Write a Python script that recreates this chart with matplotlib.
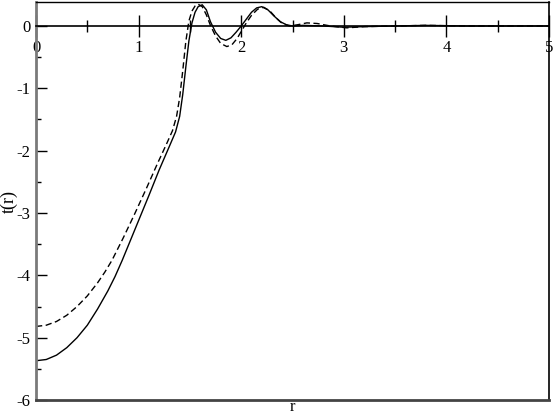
import matplotlib
matplotlib.use("Agg")
import matplotlib.pyplot as plt
from matplotlib.ticker import MultipleLocator

plt.rcParams['font.family'] = ['Liberation Serif', 'DejaVu Serif']
plt.rcParams['axes.unicode_minus'] = False

# solid curve
r_solid = [0.0, 0.1, 0.2, 0.3, 0.4, 0.5, 0.6, 0.7, 0.77, 0.84, 0.92, 1.0,
           1.1, 1.2, 1.3, 1.36, 1.40, 1.43, 1.46, 1.49, 1.52, 1.55, 1.58,
           1.62, 1.66, 1.70, 1.75, 1.80, 1.85, 1.90, 1.95, 2.00, 2.05, 2.10,
           2.15, 2.20, 2.26, 2.32, 2.38, 2.44, 2.50, 2.6, 2.8, 3.0, 3.2, 3.5,
           3.8, 4.2, 5.0]
t_solid = [-5.37, -5.35, -5.28, -5.16, -5.00, -4.80, -4.54, -4.25, -4.02,
           -3.76, -3.44, -3.12, -2.72, -2.31, -1.93, -1.70, -1.45, -1.10,
           -0.66, -0.24, 0.05, 0.22, 0.31, 0.34, 0.26, 0.07, -0.10, -0.20,
           -0.23, -0.19, -0.10, 0.00, 0.11, 0.22, 0.29, 0.31, 0.26, 0.16,
           0.07, 0.02, 0.0, 0.01, 0.0, -0.02, -0.01, 0.0, 0.01, 0.0, 0.0]

# dashed curve
r_dash = [0.0, 0.1, 0.2, 0.3, 0.4, 0.5, 0.6, 0.67, 0.74, 0.85, 0.96, 1.08,
          1.18, 1.27, 1.33, 1.37, 1.40, 1.43, 1.46, 1.49, 1.52, 1.55, 1.58,
          1.62, 1.66, 1.70, 1.75, 1.80, 1.86, 1.91, 1.96, 2.01, 2.05, 2.10,
          2.16, 2.22, 2.28, 2.34, 2.40, 2.47, 2.55, 2.64, 2.74, 2.87, 3.03,
          3.2, 3.5, 3.8, 4.2, 5.0]
t_dash = [-4.82, -4.80, -4.74, -4.64, -4.50, -4.33, -4.12, -3.95, -3.76,
          -3.40, -3.02, -2.59, -2.22, -1.90, -1.68, -1.45, -1.15, -0.72,
          -0.25, 0.08, 0.24, 0.32, 0.35, 0.31, 0.18, 0.01, -0.16, -0.28,
          -0.33, -0.30, -0.20, -0.06, 0.05, 0.17, 0.27, 0.30, 0.24, 0.13,
          0.04, 0.00, 0.02, 0.05, 0.04, 0.0, -0.03, -0.01, 0.0, 0.01, 0.0,
          0.0]

fig = plt.figure(figsize=(5.54, 4.15), dpi=100)
ax = fig.add_axes([0.065, 0.0361, 0.926, 0.9591])

ax.plot(r_solid, t_solid, color='black', lw=1.0)
ax.plot(r_dash, t_dash, color='black', lw=1.0, dashes=(4.5, 2.5))

ax.set_xlim(0, 5)
ax.set_ylim(-6, 0.385)

# x axis drawn through zero
ax.spines['bottom'].set_position(('data', 0))
ax.spines['bottom'].set_linewidth(1.2)
ax.axhline(-6, color='#444444', lw=2.0, clip_on=False, zorder=3)
ax.spines['left'].set_color('#7a7a7a')
ax.spines['left'].set_linewidth(2.0)
ax.spines['top'].set_linewidth(1.0)
ax.spines['right'].set_linewidth(1.2)

ax.xaxis.set_major_locator(MultipleLocator(1))
ax.xaxis.set_minor_locator(MultipleLocator(0.5))
ax.yaxis.set_major_locator(MultipleLocator(1))
ax.yaxis.set_minor_locator(MultipleLocator(0.5))

ax.tick_params(axis='x', which='major', direction='inout', length=16,
               width=1.0, pad=2, labelsize=12)
ax.tick_params(axis='x', which='minor', direction='inout', length=8,
               width=1.0)
ax.tick_params(axis='y', which='major', direction='in', length=8,
               width=1.0, pad=4, labelsize=12)
ax.tick_params(axis='y', which='minor', direction='in', length=3.5,
               width=1.0)

ax.set_xlabel('r', fontsize=12, va='center')
ax.xaxis.set_label_coords(0.5, -0.017)
ax.set_ylabel('t(r)', fontsize=13, va='center')
ax.yaxis.set_label_coords(-0.052, 0.5)

fig.savefig('out.png', dpi=100)
